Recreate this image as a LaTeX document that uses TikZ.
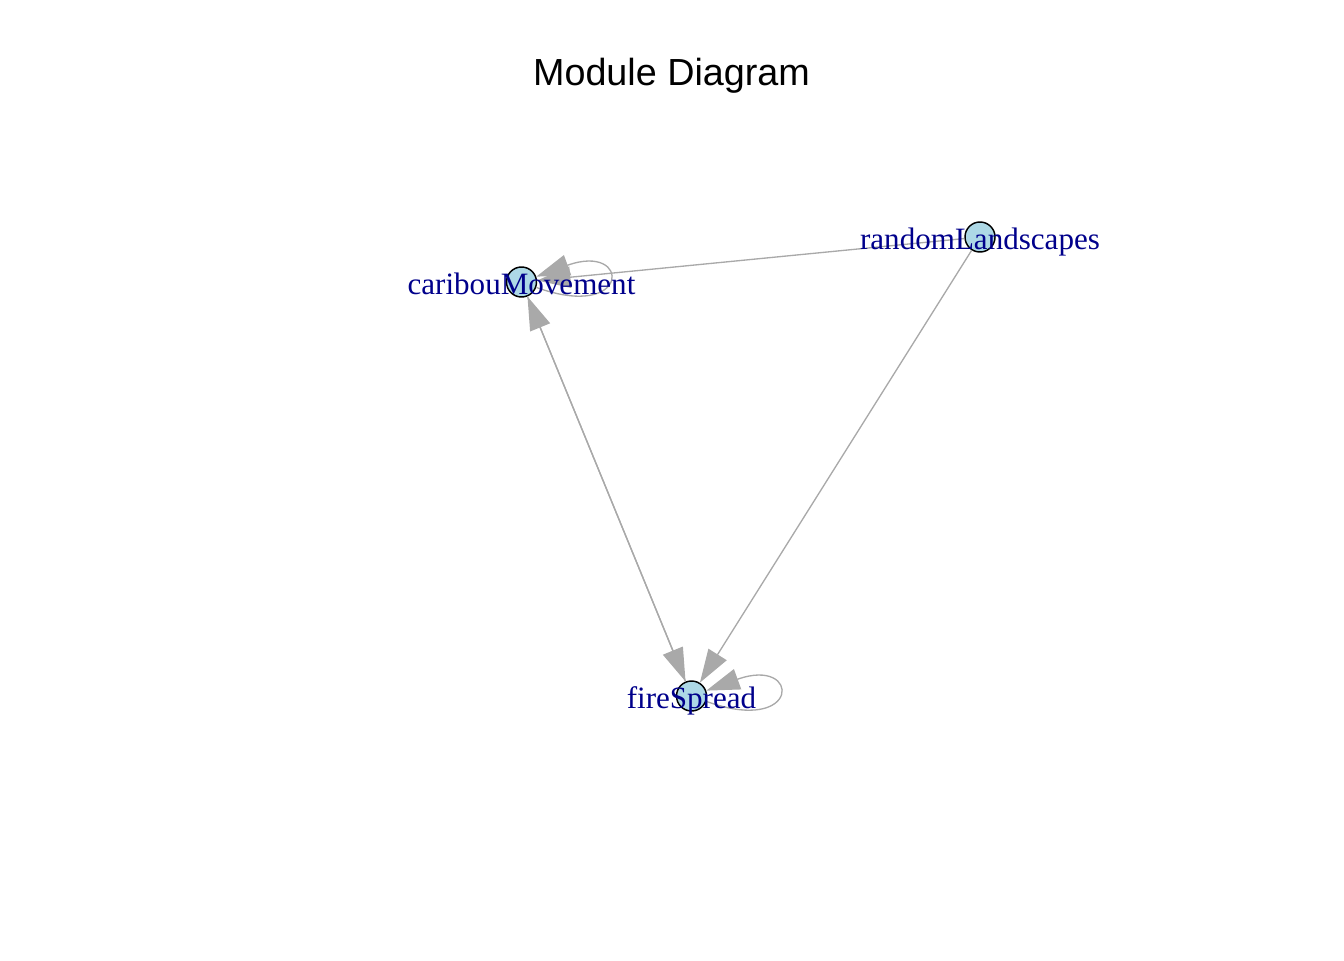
\documentclass[tikz,border=0pt]{standalone}
\usepackage{fontspec}
\setmainfont{Liberation Serif}
\newfontfamily\titlefont{Liberation Sans}
\usepackage{tikz}
\usetikzlibrary{arrows.meta}
\definecolor{edgegray}{HTML}{A9A9A9}
\definecolor{vertexblue}{HTML}{ADD8E6}
\definecolor{labelblue}{HTML}{00008B}
\tikzset{
  x=0.75pt, y=-0.75pt,
  module/.style={circle, draw=black, line width=1.1pt, fill=vertexblue,
    minimum size=22.5pt, inner sep=0pt},
  modlabel/.style={text=labelblue, font=\fontsize{23.3}{28}\selectfont,
    inner sep=0pt, anchor=base, yshift=-9.4pt},
  link/.style={draw=edgegray, line width=1pt,
    -{Triangle[length=25pt, width=16pt]}},
}

\begin{document}
\begin{tikzpicture}
  \useasboundingbox (0,0) rectangle (1344,960);

  % title
  \node[font=\titlefont\fontsize{28.3}{34}\selectfont, anchor=base] (title)
    at (671.5,85) {Module Diagram};

  % modules
  \node[module] (cM) at (521.5,282) {};
  \node[module] (rL) at (980,237) {};
  \node[module] (fS) at (691.5,696) {};

  % dependencies
  \draw[link] (rL) -- (cM);
  \draw[link] (rL) -- (fS);
  \draw[link] (cM) -- (fS);
  \draw[link] (fS) -- (cM);
  \draw[link] (cM) .. controls +(110,40) and +(110,-40) .. (cM);
  \draw[link] (fS) .. controls +(110,40) and +(110,-40) .. (fS);

  % labels
  \node[modlabel] (cMlabel) at (cM) {caribouMovement};
  \node[modlabel] (rLlabel) at (rL) {randomLandscapes};
  \node[modlabel] (fSlabel) at (fS) {fireSpread};
\end{tikzpicture}
\end{document}
